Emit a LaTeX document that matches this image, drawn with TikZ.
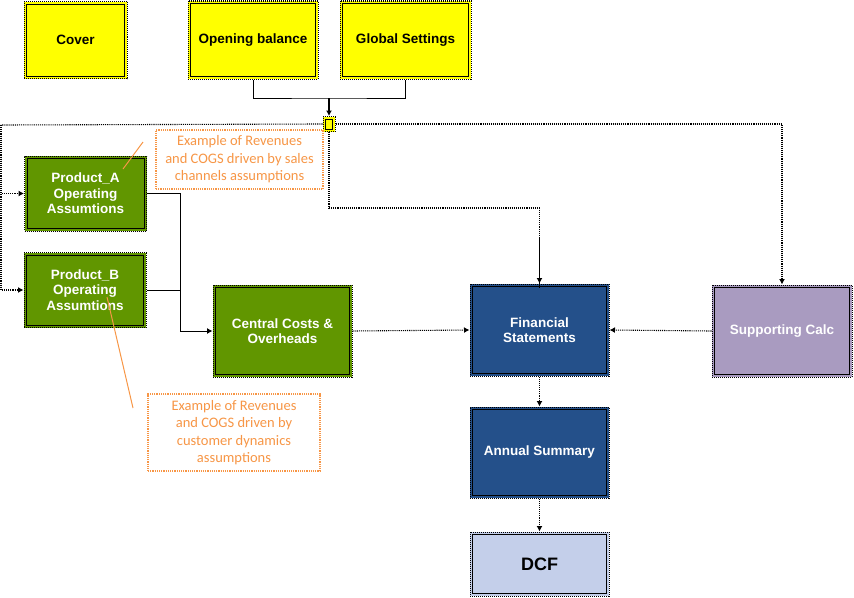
\documentclass[tikz,border=0pt]{standalone}
\usepackage{fontspec}
\setmainfont{Liberation Sans}
\newfontfamily\notefont{Carlito}
\usetikzlibrary{arrows.meta}

\definecolor{sheetyellow}{HTML}{FFFF00}
\definecolor{sheetgreen}{HTML}{619600}
\definecolor{sheetblue}{HTML}{24508A}
\definecolor{sheetpurple}{HTML}{A99BC0}
\definecolor{sheetlight}{HTML}{C4CFEA}
\definecolor{noteorange}{HTML}{F79646}

\tikzset{
  sheet/.style={draw=black, line width=1pt, densely dotted, inner sep=2pt,
    align=center, font=\fontsize{13.5}{15.5}\selectfont\bfseries,
    path picture={\draw[black, solid, line width=1pt]
      ([shift={(2.5pt,2.5pt)}]path picture bounding box.south west) rectangle
      ([shift={(-2.5pt,-2.5pt)}]path picture bounding box.north east);}},
  inputsheet/.style={sheet, fill=sheetyellow, text=black},
  opsheet/.style={sheet, fill=sheetgreen, text=white},
  outsheet/.style={sheet, fill=sheetblue, text=white},
  calcsheet/.style={sheet, fill=sheetpurple, text=white},
  valsheet/.style={sheet, fill=sheetlight, text=black,
    font=\fontsize{18}{20}\selectfont\bfseries},
  note/.style={draw=noteorange, line width=1.2pt, densely dotted, fill=white, align=center,
    text=noteorange, font=\notefont\fontsize{14.5}{17.5}\selectfont},
  link/.style={draw=black, line width=1.1pt, densely dotted},
  wire/.style={draw=black, line width=0.9pt},
  tip/.style={-{Latex[length=5.5pt,width=6pt]}}
}

\begin{document}
\begin{tikzpicture}[x=1pt, y=1pt]
  \useasboundingbox (0,0) rectangle (854,-597);
  % Sheets:
  \node[inputsheet, minimum width=103, minimum height=77] (cover) at (75.5,-40) {Cover};
  \node[inputsheet, minimum width=130, minimum height=78] (opening) at (253,-40) {Opening balance};
  \node[inputsheet, minimum width=131, minimum height=78] (global) at (405.5,-40) {Global Settings};
  \node[inputsheet, minimum width=12, minimum height=15, inner sep=0pt] (junc) at (329,-124) {};
  \node[opsheet, minimum width=122, minimum height=75] (prodA) at (85.5,-193.5) {Product\_A\\Operating\\Assumtions};
  \node[opsheet, minimum width=122, minimum height=75] (prodB) at (85,-290) {Product\_B\\Operating\\Assumtions};
  \node[opsheet, minimum width=139, minimum height=92] (central) at (282.5,-331) {Central Costs \&\\Overheads};
  \node[outsheet, minimum width=139, minimum height=92] (fin) at (539.5,-330) {Financial\\Statements};
  \node[calcsheet, minimum width=140, minimum height=92] (supp) at (782,-331) {Supporting Calc};
  \node[outsheet, minimum width=139, minimum height=91] (annual) at (539.5,-452.5) {Annual Summary};
  \node[valsheet, minimum width=139, minimum height=64] (dcf) at (539.5,-564) {DCF};

  % Wires:
  \coordinate (merge) at (329,-98);
  \coordinate (lft) at (1,-125);
  \coordinate (bend) at (329,-208);
  \coordinate (colA) at (180,-193.5);
  \draw[wire] (opening.south) |- (merge) -| (global.south);
  \draw[wire, tip, line width=1.4pt] (merge) -- (junc.north);
  \draw[link] (junc.west) -- (lft);
  \draw[link, tip] (lft) |- (prodA.west);
  \draw[link, tip] (lft) |- (prodB.west);
  \draw[link, tip] (junc.east) -| (supp.north);
  \draw[link] (junc.south) -- (bend);
  \draw[link, tip] (bend) -| (fin.north);
  \draw[wire, line width=1.4pt] ([yshift=-30pt]bend -| fin.north) -- ([yshift=-4pt]fin.north);
  \draw[wire, tip] (prodA.east) -- (colA) |- (central.west);
  \draw[wire] (prodB.east) -- (prodB.east -| colA);
  \draw[link, tip] (central.east) -- (fin.west);
  \draw[link, tip] (supp.west) -- (fin.east);
  \draw[link, tip] (fin.south) -- (annual.north);
  \draw[link, tip] (annual.south) -- (dcf.north);

  % Notes:
  \node[note, minimum width=167, minimum height=59] (noteA) at (239.5,-159.5) {Example of Revenues\\and COGS driven by sales\\channels assumptions};
  \node[note, minimum width=172, minimum height=77] (noteB) at (234,-432.5) {Example of Revenues\\and COGS driven by\\customer dynamics\\assumptions};
  \coordinate (ptrA) at (123,-169);
  \coordinate (ptrB) at (107,-297);
  \draw[noteorange, line width=1pt] (ptrA) -- (143,-142);
  \draw[noteorange, line width=1pt] (ptrB) -- (133,-408);
\end{tikzpicture}
\end{document}
